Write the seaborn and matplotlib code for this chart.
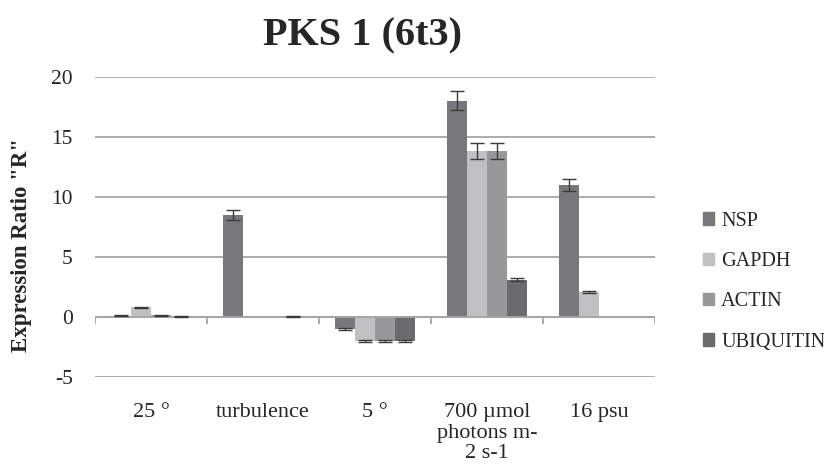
import numpy as np
import pandas as pd
import matplotlib
matplotlib.use("Agg")
import matplotlib.pyplot as plt
import matplotlib.ticker as mticker
import seaborn as sns

# Conditions (x categories) and reference genes (hue)
conditions = ["25 °", "turbulence", "5 °", "700 µmol\nphotons m-\n2 s-1", "16 psu"]
genes = ["NSP", "GAPDH", "ACTIN", "UBIQUITIN"]

# Expression ratio "R" per gene, one value per condition
nsp_vals = [0.1, 8.5, -1.0, 18.0, 11.0]
gapdh_vals = [0.8, 0.03, -2.0, 13.8, 2.1]
actin_vals = [0.15, 0.0, -2.0, 13.8, 0.0]
ubiq_vals = [0.05, 0.05, -2.0, 3.1, 0.0]

# Standard errors
nsp_err = [0.05, 0.4, 0.08, 0.8, 0.5]
gapdh_err = [0.05, 0.0, 0.12, 0.65, 0.1]
actin_err = [0.05, 0.0, 0.12, 0.65, 0.0]
ubiq_err = [0.02, 0.02, 0.12, 0.12, 0.0]

y_ticks = [-5, 0, 5, 10, 15, 20]

values = [nsp_vals, gapdh_vals, actin_vals, ubiq_vals]
errors = [nsp_err, gapdh_err, actin_err, ubiq_err]
colors = ["#78787c", "#c0c0c3", "#98989b", "#6b6b6e"]

df = pd.DataFrame({
    "condition": np.repeat([conditions], len(genes), axis=0).ravel(),
    "gene": np.repeat(genes, len(conditions)),
    "ratio": np.concatenate(values),
    "err": np.concatenate(errors),
})

sns.set_theme(style="white")
plt.rcParams["font.family"] = ["Liberation Serif", "DejaVu Serif"]

fig = plt.figure(figsize=(8.24, 4.75), dpi=100)
ax = fig.add_axes([0.1153, 0.2063, 0.6797, 0.6322])

sns.barplot(data=df, x="condition", y="ratio", hue="gene", order=conditions,
            hue_order=genes, palette=colors, width=0.72, errorbar=None,
            saturation=1, ax=ax, legend=False, linewidth=0)

# error bars centred on each bar
for gi, gene in enumerate(genes):
    cont = ax.containers[gi]
    for bi, bar in enumerate(cont):
        xc = bar.get_x() + bar.get_width() / 2
        e = errors[gi][bi]
        if e > 0:
            ax.errorbar(xc, values[gi][bi], yerr=e, fmt="none",
                        ecolor="#3a3a3a", elinewidth=1.0, capsize=5,
                        capthick=1.0, zorder=4)

ax.set_xlim(-0.5, 4.5)
ax.set_ylim(-5, 20)
ax.set_yticks(y_ticks)
ax.yaxis.set_major_formatter(mticker.FuncFormatter(lambda v, p: f"{v:.0f}"))
ax.yaxis.grid(True, color="#a6a6a6", linewidth=1.3)
ax.set_axisbelow(True)
for s in ax.spines.values():
    s.set_visible(False)

# category axis sits at zero, with short marks between categories
ax.axhline(0, color="#a6a6a6", linewidth=1.3, zorder=1)
ax.vlines(np.arange(-0.5, 5.0, 1.0), -0.55, 0, color="#a6a6a6",
          linewidth=1.3, zorder=1)

ax.tick_params(axis="both", length=0, colors="#262626")
ax.tick_params(axis="y", pad=16, labelsize=15.5)
ax.tick_params(axis="x", pad=19, labelsize=16)
for lbl in ax.get_xticklabels():
    lbl.set_linespacing(1.1)
ax.set_xlabel("")
ax.set_ylabel('Expression Ratio "R"', fontsize=16.5, fontweight="bold",
              color="#262626")
ax.yaxis.set_label_coords(-0.112, 0.44)

fig.text(0.44, 0.925, "PKS 1 (6t3)", ha="center", va="center",
         fontsize=29, fontweight="bold", color="#262626")

handles = [plt.Rectangle((0, 0), 1, 1, color=c) for c in colors]
fig.legend(handles, genes, loc="center left", bbox_to_anchor=(0.831, 0.407),
           frameon=False, fontsize=14.6, handlelength=0.55, handleheight=0.55,
           handletextpad=0.35, labelspacing=1.05, labelcolor="#262626")

fig.savefig("out.png", dpi=100)
